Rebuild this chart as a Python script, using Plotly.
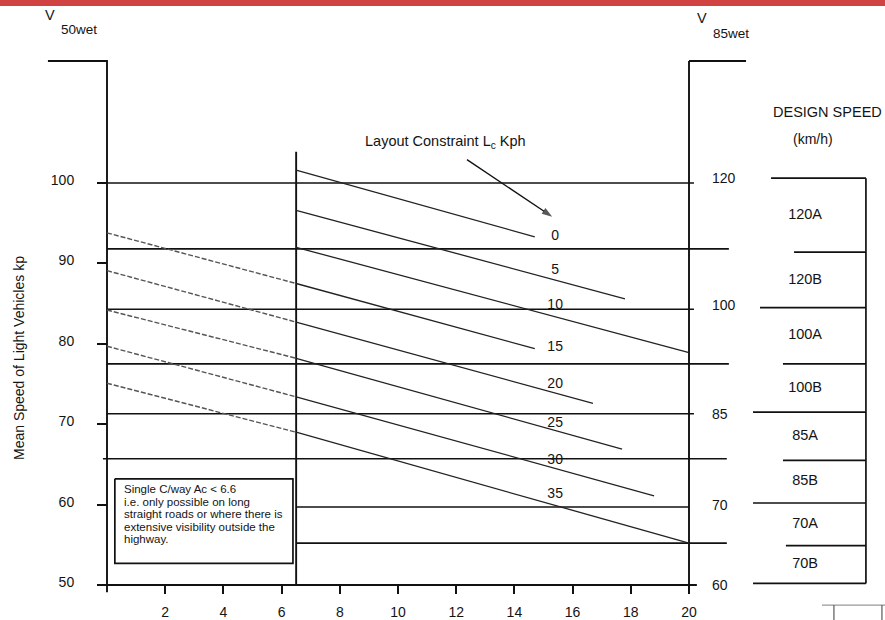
import plotly.graph_objects as go

W, H = 885, 620
FONT = "Liberation Sans, Arial, sans-serif"
INK = "#141414"

# ---- Layout constraint lines L_c (km/h) ----
lc_labels = ["0", "5", "10", "15", "20", "25", "30", "35"]
# dashed run over the single-carriageway zone (only L_c = 15 .. 35)
dash_start_x = 0.0
dash_start_y = [93.8, 89.1, 84.2, 79.7, 75.1]
kink_x = 6.5
kink_y = [87.5, 82.7, 78.2, 73.4, 69.0]
# solid runs from the kink line out to their end points
solid_start_y = [101.6, 96.6, 92.0] + kink_y
solid_end_x = [14.7, 17.8, 20.0, 14.7, 16.7, 17.7, 18.8, 20.0]
solid_end_y = [93.3, 85.6, 78.9, 79.4, 72.6, 66.9, 61.1, 55.2]
label_x = 15.4
label_y = [93.4, 89.1, 84.8, 79.5, 75.0, 70.1, 65.5, 61.2]

# ---- Speed band boundaries (V50wet scale) ----
band_y = [100.0, 91.8, 84.3, 77.5, 71.3, 65.7, 59.7, 55.2]
band_x0 = [-0.34, 0.0, 0.0, 0.0, 0.0, -0.14, 6.5, 6.5]
band_x1 = [20.17, 21.37, 20.17, 21.37, 20.17, 21.3, 20.0, 21.3]

# ---- V85wet axis ----
v85_pos = [100.6, 84.8, 71.3, 59.9, 50.0]
v85_text = ["120", "100", "85", "70", "60"]

# ---- Design speed classes ----
ds_bounds = [100.6, 91.4, 84.5, 77.5, 71.5, 65.5, 60.2, 54.9, 50.2]
ds_x0 = [22.82, 23.61, 22.44, 23.23, 22.20, 23.23, 22.20, 23.33, 22.20]
ds_right = 26.08
ds_classes = ["120A", "120B", "100A", "100B", "85A", "85B", "70A", "70B"]
ds_label_x = 23.99

# ---- Axis ticks ----
x_ticks = list(range(2, 21, 2))
y_ticks = [50, 60, 70, 80, 90, 100]

# ---- Note on single carriageways ----
note_lines = [
    "Single C/way Ac &lt; 6.6",
    "i.e. only possible on long",
    "straight roads or where there is",
    "extensive visibility outside the",
    "highway.",
]

# frame geometry
frame_top = 115.17
x_split = 6.5

# axis ranges so that x=0..20 and V=50..100 sit inside the page
x_range = [-107 / 29.1, (W - 107) / 29.1]
y_range = [50 - (H - 585) / 8.04, 50 + 585 / 8.04]

fig = go.Figure()


def seg(xs, ys, width=1.7, color="#111", dash="solid", yaxis="y"):
    fig.add_trace(go.Scatter(
        x=xs, y=ys, mode="lines", yaxis=yaxis,
        line=dict(color=color, width=width, dash=dash),
        hoverinfo="skip", showlegend=False))


# frame: left bracket, left axis, split line, right axis, baseline
seg([-2.03, 0, 0], [frame_top, frame_top, 49.1], width=1.9)
seg([20, 21.96], [frame_top, frame_top], width=1.9)
seg([20, 20], [frame_top, 49.1], width=1.9)
seg([x_split, x_split], [50, 103.9], width=1.9)
seg([-0.34, 20.27], [50, 50], width=1.9)

# horizontal band boundaries
for y, x0, x1 in zip(band_y, band_x0, band_x1):
    seg([x0, x1], [y, y], width=1.7)

# dashed single-carriageway extensions
for y0, yk in zip(dash_start_y, kink_y):
    seg([dash_start_x, kink_x], [y0, yk], width=1.4, color="#555", dash="5px,2px")

# layout constraint lines
for y0, x1, y1 in zip(solid_start_y, solid_end_x, solid_end_y):
    seg([kink_x, x1], [y0, y1], width=1.3, color="#222")

# line labels
fig.add_trace(go.Scatter(
    x=[label_x] * len(lc_labels), y=label_y, text=lc_labels, mode="text",
    textfont=dict(family=FONT, size=14, color=INK),
    hoverinfo="skip", showlegend=False))

# arrow pointing at the L_c = 0 line
fig.add_trace(go.Scatter(
    x=[12.37, 15.3], y=[102.9, 95.8], mode="lines+markers",
    line=dict(color="#111", width=1.4),
    marker=dict(symbol=["circle", "arrow"], size=[0, 11], color="#111",
                angleref="previous", line=dict(width=0)),
    hoverinfo="skip", showlegend=False))

# note box
box_x = [0.27, 6.39, 6.39, 0.27, 0.27]
box_y = [63.2, 63.2, 52.7, 52.7, 63.2]
seg(box_x, box_y, width=1.7)

# design speed table
seg([ds_right, ds_right], [ds_bounds[0], ds_bounds[-1]], width=1.7)
for y, x0 in zip(ds_bounds, ds_x0):
    seg([x0, ds_right], [y, y], width=1.7)
ds_mid = [(a + b) / 2 for a, b in zip(ds_bounds[:-1], ds_bounds[1:])]
fig.add_trace(go.Scatter(
    x=[ds_label_x] * len(ds_classes), y=ds_mid, text=ds_classes, mode="text",
    textfont=dict(family=FONT, size=14.5, color=INK),
    hoverinfo="skip", showlegend=False))

# start of the table below
seg([24.57, 26.74], [47.5, 47.5], width=1.2, color="#999")
seg([24.98, 24.98], [47.5, 45.6], width=1.3, color="#666")
seg([26.63, 26.63], [47.5, 45.6], width=1.3, color="#666")

# carrier for the V85wet axis
fig.add_trace(go.Scatter(x=[20], y=[50], yaxis="y2", mode="markers",
                         marker=dict(opacity=0), hoverinfo="skip",
                         showlegend=False))


def px(x):
    return x / W


def py(y):
    return 1 - y / H


ann = []


def text(x, y, s, size=14, xanchor="center", yanchor="middle", **kw):
    ann.append(dict(x=px(x), y=py(y), xref="paper", yref="paper", text=s,
                    showarrow=False, xanchor=xanchor, yanchor=yanchor,
                    font=dict(family=FONT, size=size, color=INK), **kw))


text(50, 15, "V", size=14.5)
text(79, 30, "50wet", size=13.5)
text(702, 18, "V", size=14.5)
text(731, 34, "85wet", size=13.5)
text(827, 112, "DESIGN SPEED", size=14.5)
text(813, 139, "(km/h)", size=14)
text(445, 142, "Layout Constraint L<sub>c</sub> Kph", size=14.5)
text(19, 358, "Mean Speed of Light Vehicles kp", size=14, textangle=-90)
for i, line in enumerate(note_lines):
    text(122, 489 + 12.5 * i, line, size=11.5, xanchor="left")

fig.update_layout(
    width=W, height=H,
    margin=dict(l=0, r=0, t=0, b=0),
    paper_bgcolor="white", plot_bgcolor="white",
    annotations=ann,
    shapes=[dict(type="rect", xref="paper", yref="paper", x0=0, x1=1,
                 y0=py(6), y1=1, line=dict(width=0), fillcolor="#d14343")],
    xaxis=dict(range=x_range, domain=[0, 1], anchor="free", position=(H - 585) / H,
               showgrid=False, zeroline=False, showline=False,
               tickvals=x_ticks, ticks="outside",
               ticklen=8, tickwidth=1.7, tickcolor="#111",
               ticklabelstandoff=6,
               tickfont=dict(family=FONT, size=14, color=INK)),
    yaxis=dict(range=y_range, domain=[0, 1], anchor="free", position=107 / W,
               showgrid=False, zeroline=False, showline=False,
               tickvals=y_ticks, ticks="outside", ticklen=10, tickwidth=1.7,
               tickcolor="#111", ticklabelstandoff=20, ticklabelshift=-3,
               tickfont=dict(family=FONT, size=14, color=INK)),
    yaxis2=dict(range=y_range, overlaying="y", anchor="free", position=689 / W,
                side="right", showgrid=False, zeroline=False, showline=False,
                tickvals=v85_pos, ticktext=v85_text, ticks="",
                ticklabelstandoff=22,
                tickfont=dict(family=FONT, size=14, color=INK)),
)

fig.write_html("out.html")
